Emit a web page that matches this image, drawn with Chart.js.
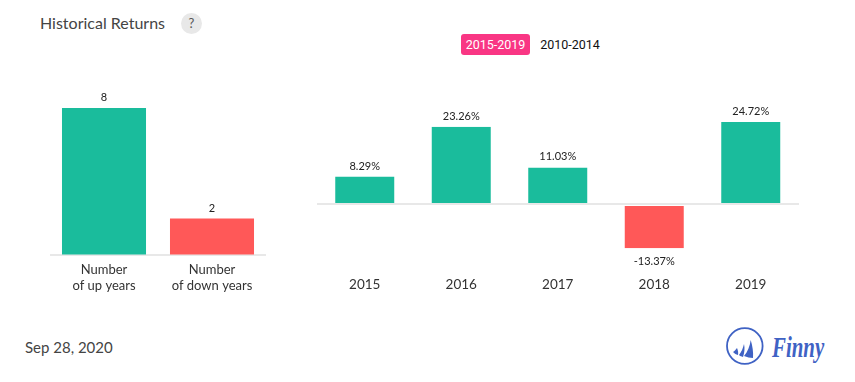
<!DOCTYPE html>
<html>
<head>
<meta charset="utf-8">
<title>Historical Returns</title>
<script src="https://cdn.jsdelivr.net/npm/chart.js@4"></script>
<style>
    html, body { margin: 0; padding: 0; background: #fff; }
    body { position: relative; width: 855px; height: 382px; overflow: hidden; font-family: Lato, sans-serif; }
    .abs { position: absolute; }
    #title { left: 40px; top: 13px; font-size: 16px; line-height: 20px; color: #444; }
    #help { left: 181px; top: 13px; width: 21px; height: 21px; line-height: 21px; border-radius: 50%; background: #e8e8e8; color: #555; text-align: center; font-size: 13px; }
    .period { top: 34px; height: 21px; line-height: 21px; font-family: Roboto, sans-serif; font-size: 12.5px; text-align: center; }
    #periodOn { left: 461px; width: 69px; background: #f93684; color: #fff; border-radius: 3px; }
    #periodOff { left: 535px; width: 70px; color: #111; }
    #date { left: 25px; top: 337px; font-size: 15px; line-height: 20px; color: #444; }
    #finny { left: 772px; top: 331px; font-family: "Liberation Serif", serif; font-style: italic; font-weight: bold; font-size: 29px; line-height: 32px; color: #3f62c4; transform: scaleX(0.72); transform-origin: left center; }
    #leftWrap { left: 50px; top: 80px; width: 217px; height: 220px; }
    #rightWrap { left: 316px; top: 80px; width: 484px; height: 220px; }
</style>
</head>
<body>
<div class="abs" id="title">Historical Returns</div>
<div class="abs" id="help">?</div>
<div class="abs period" id="periodOn">2015-2019</div>
<div class="abs period" id="periodOff">2010-2014</div>
<div class="abs" id="leftWrap"><canvas id="leftChart"></canvas></div>
<div class="abs" id="rightWrap"><canvas id="rightChart"></canvas></div>
<div class="abs" id="date">Sep 28, 2020</div>
<svg class="abs" style="left:725px;top:327px" width="40" height="40" viewBox="0 0 40 40">
    <circle cx="19.8" cy="19" r="17.8" fill="none" stroke="#3f62c4" stroke-width="1.8"/>
    <path d="M25.7 13 C27.5 19 28.5 25 28 31 C25 31 22 30 19 29 C22.5 25 25 19 25.7 13 Z" fill="#3f62c4"/>
    <path d="M19 17 C20 21 19.5 26 18 30 C16.5 29.5 15 29 14 28 C16.5 25 18 21 19 17 Z" fill="#3f62c4"/>
    <path d="M12 21 C13 23 13.5 26 13 28 C11 27.5 9.5 26.5 8 25 C9.5 24 11 22.5 12 21 Z" fill="#3f62c4"/>
</svg>
<div class="abs" id="finny">Finny</div>

<script>
// Left chart: up and down years
const yearTypes = [["Number", "of up years"], ["Number", "of down years"]];
const yearCounts = [8, 2];

// Right chart: yearly returns in percent
const years = ["2015", "2016", "2017", "2018", "2019"];
const returnsPct = [8.29, 23.26, 11.03, -13.37, 24.72];

const upColor = "#1abc9c";
const downColor = "#ff5858";
const axisColor = "#e8e8e8";

// Writes each value above (or below) its bar
const valueLabels = {
    id: "valueLabels",
    afterDatasetsDraw(chart, args, opts) {
        let ctx = chart.ctx;
        let values = chart.data.datasets[0].data;
        ctx.save();
        ctx.font = "11px Lato, sans-serif";
        ctx.fillStyle = "#222";
        ctx.textAlign = "center";
        chart.getDatasetMeta(0).data.forEach((bar, i) => {
            let text = values[i] + opts.suffix;
            ctx.textBaseline = values[i] < 0 ? "top" : "bottom";
            ctx.fillText(text, bar.x, values[i] < 0 ? bar.y + 8 : bar.y - 5);
        });
        ctx.restore();
    }
};

function makeChart(canvasId, labels, values, cfg) {
    new Chart(document.getElementById(canvasId), {
        type: "bar",
        data: {
            labels: labels,
            datasets: [{
                data: values,
                backgroundColor: values.map(cfg.barColor),
                borderColor: "#fff",
                borderSkipped: false,
                borderWidth: values.map(v => cfg.gap ? { left: 1, right: 1, top: v < 0 ? 1 : 0, bottom: 0 } : 0),
                categoryPercentage: 1,
                barPercentage: cfg.barPct
            }]
        },
        plugins: [valueLabels],
        options: {
            responsive: true,
            maintainAspectRatio: false,
            animation: false,
            layout: { padding: cfg.padding },
            plugins: {
                legend: { display: false },
                tooltip: { enabled: false },
                valueLabels: { suffix: cfg.suffix }
            },
            scales: {
                x: {
                    grid: { display: false },
                    border: { display: false },
                    afterFit: scale => { scale.height = cfg.axisHeight; },
                    ticks: {
                        color: "#333",
                        maxRotation: 0,
                        autoSkip: false,
                        padding: cfg.tickPad,
                        font: { family: "Lato, sans-serif", size: cfg.tickSize, lineHeight: 16 / cfg.tickSize }
                    }
                },
                y: {
                    min: cfg.yMin,
                    max: cfg.yMax,
                    afterFit: scale => { scale.width = 0; },
                    border: { display: false },
                    ticks: { display: false, stepSize: 100 },
                    grid: {
                        drawTicks: false,
                        lineWidth: 2,
                        color: c => c.tick.value === 0 ? axisColor : "transparent"
                    }
                }
            }
        }
    });
}

makeChart("leftChart", yearTypes, yearCounts, {
    yMin: 0, yMax: 9.52, barPct: 0.778, suffix: "", gap: false,
    padding: { right: 1 }, axisHeight: 44.6, tickPad: -2, tickSize: 13,
    barColor: v => v < 5 ? downColor : upColor
});
makeChart("rightChart", years, returnsPct, {
    yMin: -15.38, yMax: 37.38, barPct: 0.632, suffix: "%", gap: true,
    padding: { left: 0.5, right: 1 }, axisHeight: 45, tickPad: 14, tickSize: 13.5,
    barColor: v => v < 0 ? downColor : upColor
});
</script>
</body>
</html>
